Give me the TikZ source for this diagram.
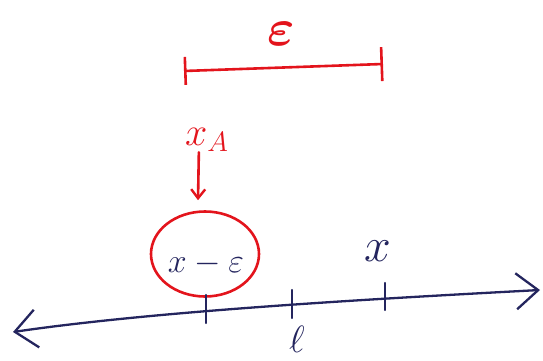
\RequirePackage{fix-cm}
\documentclass[tikz,border=0pt]{standalone}
\usepackage{amsmath,amssymb,bm}
\usepackage{xcolor}
\usepackage{tikz}
\usetikzlibrary{arrows.meta,calc,shapes.geometric}
\definecolor{SketchRed}{HTML}{E3141C}
\definecolor{SketchNavy}{HTML}{24255E}
\tikzset{
  redmark/.style={draw=SketchRed,line width=2.6pt,line cap=round},
  redtext/.style={text=SketchRed,inner sep=1pt,font=\fontsize{40}{44}\selectfont},
  navytext/.style={text=SketchNavy,inner sep=1pt,font=\fontsize{40}{44}\selectfont},
  bracket/.style={redmark,{Bar[width=28pt,line width=2.6pt]}-{Bar[width=34pt,line width=2.6pt]}},
  pointer/.style={redmark,-{Straight Barb[length=9pt,width=14pt,line width=2.4pt]}},
  hoop/.style={ellipse,draw=SketchRed,line width=2.6pt,minimum width=108pt,minimum height=85pt},
  numline/.style={draw=SketchNavy,line width=2.3pt,line cap=round,
    {Straight Barb[length=22pt,width=38pt,line width=2.3pt]}-{Straight Barb[length=22pt,width=36pt,line width=2.3pt]}},
  tickmark/.style={draw=SketchNavy,line width=2.3pt,line cap=round}
}
\begin{document}
\begin{tikzpicture}[x=1pt,y=-1pt]
  \useasboundingbox (0,0) rectangle (543,361);

  % epsilon width on top
  \node[redtext,font=\fontsize{52}{56}\selectfont,inner sep=0pt,anchor=base] (epslab) at (281,46) {$\bm{\varepsilon}$};
  \coordinate (epsL) at (184,71);
  \coordinate (epsR) at (383,64);
  \draw[bracket] (epsL) -- (epsR);

  % x_A points at the circled point
  \node[redtext,anchor=base west] (xA) at (184,145) {$x_A$};
  \node[hoop] (circ) at (205,254) {};
  \node[navytext,font=\fontsize{34}{38}\selectfont] (xmeps) at (206,264) {$x-\varepsilon$};
  \draw[pointer] ([xshift=-8pt]xA.south) -- ([xshift=-7pt,yshift=10pt]circ.north);

  % number line
  \coordinate (lineL) at (13,332);
  \coordinate (lineR) at (540,290);
  \draw[numline] (lineL) .. controls (150,312) and (350,300) .. (lineR);

  \coordinate (tA) at (206,309);
  \coordinate (tL) at (292,304);
  \coordinate (tX) at (385,297);
  \draw[tickmark] ([yshift=14pt]tA) -- ([yshift=-14pt]tA);
  \draw[tickmark] ([yshift=14pt]tL) -- ([yshift=-14pt]tL);
  \draw[tickmark] ([yshift=14pt]tX) -- ([yshift=-13pt]tX);

  \node[navytext,font=\fontsize{48}{52}\selectfont] (xlab) at (378,251) {$x$};
  \node[navytext,font=\fontsize{38}{42}\selectfont,inner sep=0pt,anchor=base] (ell) at (297,352) {$\ell$};
\end{tikzpicture}
\end{document}
